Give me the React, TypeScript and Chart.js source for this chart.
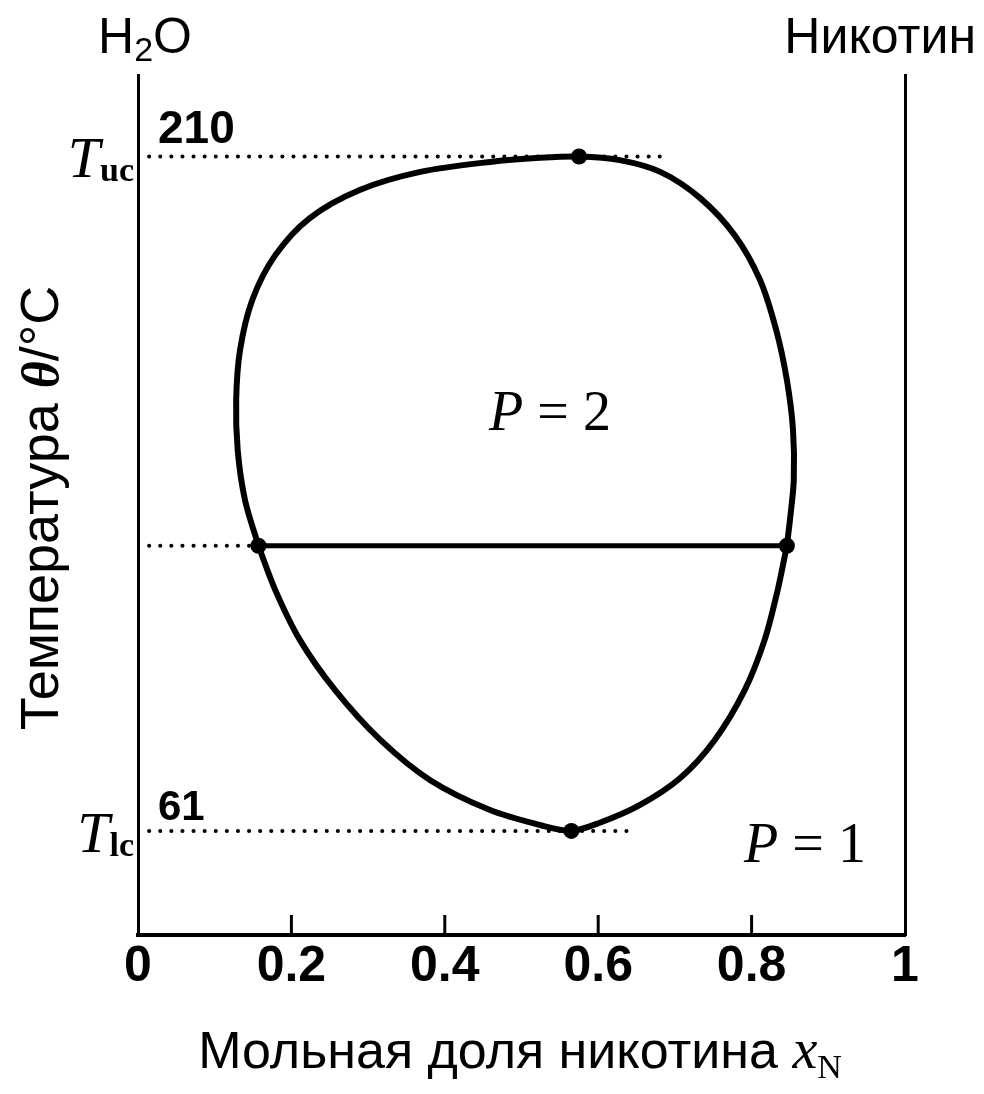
import React, { useEffect, useRef } from 'react';
import { Chart, registerables } from 'chart.js';

Chart.register(...registerables);

// ---------- data ----------
const xTickValues = [0, 0.2, 0.4, 0.6, 0.8, 1];
const xTickLabels = ['0', '0.2', '0.4', '0.6', '0.8', '1'];

// upper branch of the coexistence curve (left tie point -> top -> right tie point)
const upperX = [0.157, 0.1395, 0.130, 0.128, 0.133, 0.149, 0.179, 0.224, 0.289, 0.368, 0.459, 0.524, 0.575, 0.628, 0.681, 0.733, 0.778, 0.811, 0.832, 0.846, 0.854, 0.855, 0.850, 0.846];
const upperY = [124, 134.1, 145.1, 156.2, 167.2, 178.3, 188.2, 196.4, 202.6, 206.6, 208.8, 209.7, 210, 209.2, 206.6, 200.8, 192.6, 182.7, 171.7, 160.6, 149.6, 138.5, 129.7, 124];

// lower branch (left tie point -> bottom -> right tie point)
const lowerX = [0.157, 0.179, 0.211, 0.257, 0.316, 0.381, 0.459, 0.524, 0.565, 0.602, 0.654, 0.707, 0.752, 0.791, 0.817, 0.834, 0.846];
const lowerY = [124, 114.2, 103.2, 92.1, 81.1, 72.2, 65.6, 62.3, 61, 62.8, 66.7, 72.7, 81.1, 92.1, 103.2, 114.2, 124];

// tie line
const tieX = [0.157, 0.846];
const tieT = 124;

// marked points
const markX = [0.575, 0.565, 0.157, 0.846];
const markY = [210, 61, 124, 124];

// critical temperatures
const Tuc = 210;
const Tlc = 61;
const tucGuideX = [0, 0.69];
const tlcGuideX = [0, 0.65];
const tieGuideX = [0, 0.157];

const yMin = 38;
const yMax = 228;

// ---------- helpers ----------
type Part = { text: string; font: string; dy?: number };

function drawRich(ctx: CanvasRenderingContext2D, parts: Part[], x: number, y: number, align: 'left' | 'center' | 'right') {
  ctx.save();
  ctx.textAlign = 'left';
  ctx.textBaseline = 'alphabetic';
  let w = 0;
  const widths = parts.map((p) => {
    ctx.font = p.font;
    const m = ctx.measureText(p.text).width;
    w += m;
    return m;
  });
  let cx = align === 'center' ? x - w / 2 : align === 'right' ? x - w : x;
  parts.forEach((p, i) => {
    ctx.font = p.font;
    ctx.fillText(p.text, cx, y + (p.dy || 0));
    cx += widths[i];
  });
  ctx.restore();
}

const SANS = '"Liberation Sans", Arial, sans-serif';
const SERIF = '"Liberation Serif", "DejaVu Serif", serif';

const decorPlugin = {
  id: 'decor',
  afterDatasetsDraw(chart: any) {
    const ctx: CanvasRenderingContext2D = chart.ctx;
    const xs = chart.scales.x;
    const bottom = chart.chartArea.bottom;
    // inward tick marks
    ctx.save();
    ctx.strokeStyle = '#000';
    ctx.lineWidth = 3;
    xTickValues.slice(1, -1).forEach((v) => {
      const px = xs.getPixelForValue(v);
      ctx.beginPath();
      ctx.moveTo(px, bottom);
      ctx.lineTo(px, bottom - 20);
      ctx.stroke();
    });
    ctx.restore();
  },
  afterDraw(chart: any) {
    const ctx: CanvasRenderingContext2D = chart.ctx;
    const xs = chart.scales.x;
    const ys = chart.scales.y;
    const left = chart.chartArea.left;
    ctx.save();
    ctx.fillStyle = '#000';

    // component names
    drawRich(ctx, [
      { text: 'H', font: `50px ${SANS}` },
      { text: '2', font: `34px ${SANS}`, dy: 8 },
      { text: 'O', font: `50px ${SANS}` },
    ], xs.getPixelForValue(0) + 7, 53, 'center');
    drawRich(ctx, [{ text: 'Никотин', font: `50px ${SANS}` }], 976, 53, 'right');

    // critical temperature labels
    const pUc = ys.getPixelForValue(Tuc);
    const pLc = ys.getPixelForValue(Tlc);
    drawRich(ctx, [
      { text: 'T', font: `italic 58px ${SERIF}` },
      { text: 'uc', font: `bold 34px ${SERIF}`, dy: 4 },
    ], left - 4, pUc + 21, 'right');
    drawRich(ctx, [
      { text: 'T', font: `italic 58px ${SERIF}` },
      { text: 'lc', font: `bold 34px ${SERIF}`, dy: 4 },
    ], left - 4, pLc + 21, 'right');
    drawRich(ctx, [{ text: String(Tuc), font: `bold 46px ${SANS}` }], left + 20, pUc - 13, 'left');
    drawRich(ctx, [{ text: String(Tlc), font: `bold 42px ${SANS}` }], left + 20, pLc - 11, 'left');

    // phase labels
    drawRich(ctx, [
      { text: 'P', font: `italic 56px ${SERIF}` },
      { text: ' = 2', font: `56px ${SERIF}` },
    ], 550, 430, 'center');
    drawRich(ctx, [
      { text: 'P', font: `italic 56px ${SERIF}` },
      { text: ' = 1', font: `56px ${SERIF}` },
    ], 805, 862, 'center');

    // x-axis title
    drawRich(ctx, [
      { text: 'Мольная доля никотина ', font: `52px ${SANS}` },
      { text: 'x', font: `italic 56px ${SERIF}` },
      { text: 'N', font: `34px ${SERIF}`, dy: 10 },
    ], 520, 1068, 'center');

    // y-axis title (rotated)
    ctx.save();
    ctx.translate(58, 508);
    ctx.rotate(-Math.PI / 2);
    drawRich(ctx, [
      { text: 'Температура ', font: `54px ${SANS}` },
      { text: 'θ', font: `italic bold 52px ${SERIF}` },
      { text: '/°C', font: `54px ${SANS}` },
    ], 0, 0, 'center');
    ctx.restore();

    ctx.restore();
  },
};

const TARGET = { left: 138, right: 905, top: 75, bottom: 935 };

export default function App() {
  const ref = useRef<HTMLCanvasElement | null>(null);

  useEffect(() => {
    if (!ref.current) return;
    const line = (xs: number[], ys: number[], width: number, tension: number) => ({
      data: xs.map((x, i) => ({ x, y: ys[i] })),
      showLine: true,
      borderColor: '#000',
      borderWidth: width,
      tension,
      pointRadius: 0,
      fill: false,
      borderCapStyle: 'round' as const,
      borderJoinStyle: 'round' as const,
    });
    const dotted = (xs: number[], y: number) => ({
      data: xs.map((x) => ({ x, y })),
      showLine: true,
      borderColor: '#000',
      borderWidth: 4,
      borderDash: [0.1, 11],
      borderCapStyle: 'round' as const,
      pointRadius: 0,
      fill: false,
    });

    const chart = new Chart(ref.current, {
      type: 'scatter',
      data: {
        datasets: [
          dotted(tucGuideX, Tuc),
          dotted(tlcGuideX, Tlc),
          dotted(tieGuideX, tieT),
          line(upperX, upperY, 6, 0.3),
          line(lowerX, lowerY, 6, 0.3),
          line(tieX, [tieT, tieT], 5, 0),
          {
            data: markX.map((x, i) => ({ x, y: markY[i] })),
            showLine: false,
            pointRadius: 8,
            pointBackgroundColor: '#000',
            pointBorderWidth: 0,
          } as any,
        ],
      },
      options: {
        animation: false,
        responsive: false,
        maintainAspectRatio: false,
        layout: { padding: { left: 124, right: 65, top: 75, bottom: 97 } },
        plugins: { legend: { display: false }, tooltip: { enabled: false }, title: { display: false } },
        scales: {
          x: {
            type: 'linear',
            min: 0,
            max: 1,
            afterBuildTicks: (scale: any) => {
              scale.ticks = xTickValues.map((v) => ({ value: v }));
            },
            ticks: {
              callback: (v: any) => {
                const i = xTickValues.indexOf(Number(v));
                return i >= 0 ? xTickLabels[i] : '';
              },
              color: '#000',
              font: { family: '"Liberation Sans", Arial, sans-serif', size: 50, weight: 'bold' },
              padding: 2,
              maxRotation: 0,
              autoSkip: false,
            },
            grid: { display: false, drawTicks: false },
            border: { display: true, color: '#000', width: 4 },
          },
          y: {
            type: 'linear',
            min: yMin,
            max: yMax,
            ticks: { display: false },
            grid: { display: false, drawTicks: false },
            border: { display: true, color: '#000', width: 3 },
          },
          y2: {
            type: 'linear',
            position: 'right',
            min: yMin,
            max: yMax,
            ticks: { display: false },
            grid: { display: false, drawTicks: false },
            border: { display: true, color: '#000', width: 3 },
          },
        },
      } as any,
      plugins: [decorPlugin],
    });

    // fit the plot area to the target frame
    const ca = chart.chartArea;
    const pad: any = (chart.options as any).layout.padding;
    pad.left += TARGET.left - ca.left;
    pad.right += ca.right - TARGET.right;
    pad.top += TARGET.top - ca.top;
    pad.bottom += ca.bottom - TARGET.bottom;
    chart.update();

    return () => chart.destroy();
  }, []);

  return (
    <div style={{ position: 'fixed', left: 0, top: 0, width: 984, height: 1094, background: '#fff' }}>
      <canvas ref={ref} width={984} height={1094} style={{ display: 'block', width: 984, height: 1094 }} />
    </div>
  );
}
